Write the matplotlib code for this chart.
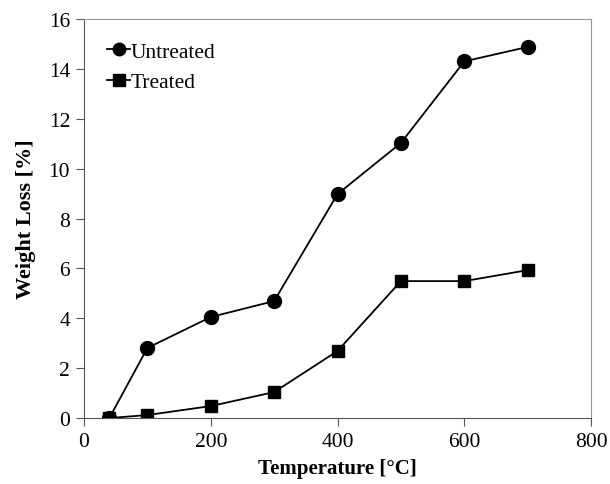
import matplotlib
matplotlib.use("Agg")
import matplotlib.pyplot as plt

temps = [40, 100, 200, 300, 400, 500, 600, 700]
untreated = [0.0, 2.81, 4.05, 4.69, 8.98, 11.03, 14.3, 14.88]
treated = [0.0, 0.12, 0.48, 1.04, 2.69, 5.49, 5.49, 5.93]

plt.rcParams['font.family'] = ['Liberation Serif', 'DejaVu Serif']

fig = plt.figure(figsize=(6.1, 4.85), dpi=100)
ax = fig.add_axes([0.1377, 0.136, 0.969 - 0.1377, 0.9588 - 0.136])

ax.plot(temps, untreated, '-o', color='black', lw=1.3, ms=10, label='Untreated')
ax.plot(temps, treated, '-s', color='black', lw=1.3, ms=9, label='Treated')

ax.set_xlim(0, 800)
ax.set_ylim(0, 16)
ax.set_xticks(range(0, 801, 200))
ax.set_yticks(range(0, 17, 2))
ax.tick_params(direction='out', length=6, labelsize=15.5, width=0.8, color='#555555', pad=4)
for s in ['top', 'right']:
    ax.spines[s].set_color('#999999')
for s in ['left', 'bottom']:
    ax.spines[s].set_color('#555555')

ax.set_xlabel('Temperature [°C]', fontsize=15, fontweight='bold', labelpad=5)
ax.set_ylabel('Weight Loss [%]', fontsize=16, fontweight='bold', labelpad=9)

ax.legend(loc='upper left', frameon=False, fontsize=15.5, handlelength=1.1,
          handletextpad=0.0, borderaxespad=0.0, labelspacing=0.5,
          bbox_to_anchor=(0.028, 0.965), markerscale=0.9)

fig.savefig('out.png', dpi=100)
